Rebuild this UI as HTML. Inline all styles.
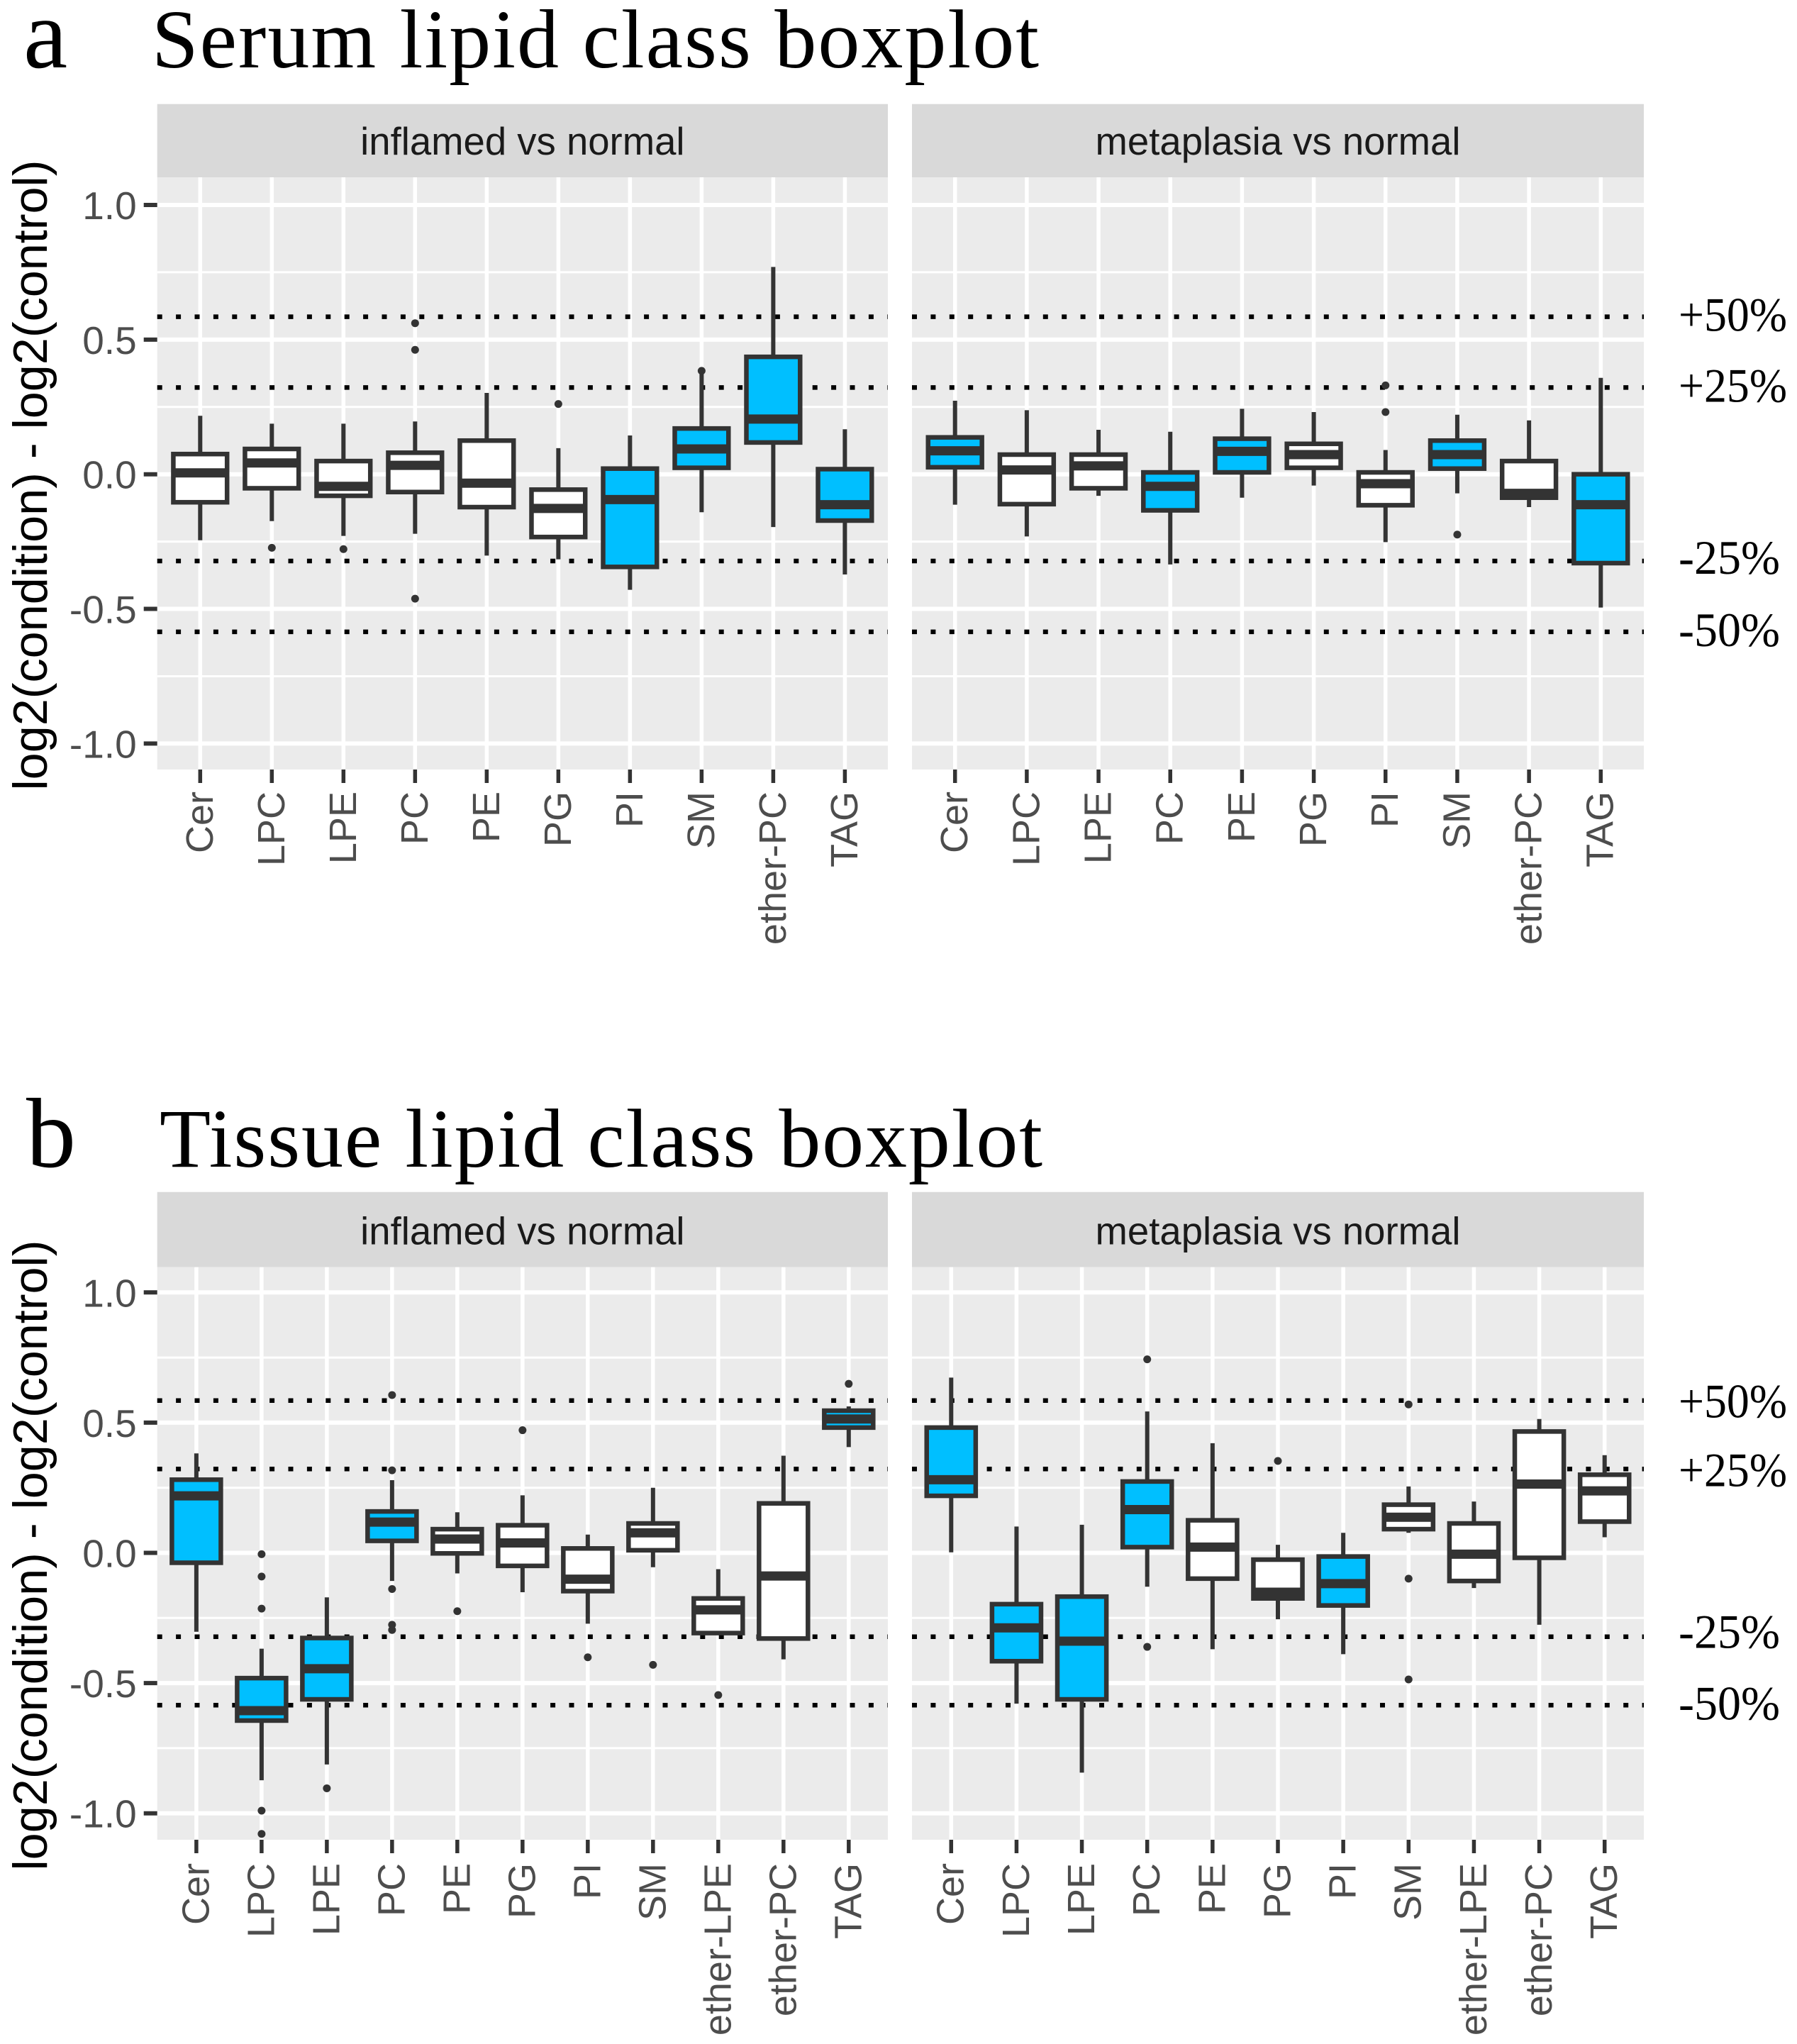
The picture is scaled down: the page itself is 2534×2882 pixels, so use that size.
<!DOCTYPE html>
<html lang="en">
<head>
<meta charset="utf-8">
<title>Serum and tissue lipid class boxplots</title>
<style>
html,body{margin:0;padding:0;background:#fff;}
svg{display:block;}
text{font-family:"Liberation Sans",sans-serif;}
.serif{font-family:"Liberation Serif",serif;}
</style>
</head>
<body>
<svg id="figure" xmlns="http://www.w3.org/2000/svg" width="2534" height="2882" viewBox="0 0 2534 2882"></svg>
<script>
// ---------- Shared data ----------
const yTickValues = [1.0, 0.5, 0.0, -0.5, -1.0];
const yTickLabels = ['1.0', '0.5', '0.0', '-0.5', '-1.0'];
const yMinorValues = [0.75, 0.25, -0.25, -0.75];
const referenceValues = [0.585, 0.322, -0.322, -0.585];
const referenceLabels = ['+50%', '+25%', '-25%', '-50%'];

// ---------- Serum: inflamed vs normal ----------
const serumCategories = ['Cer', 'LPC', 'LPE', 'PC', 'PE', 'PG', 'PI', 'SM', 'ether-PC', 'TAG'];
const serumInflamedWhiskerHigh = [0.217, 0.188, 0.188, 0.196, 0.302, 0.097, 0.144, 0.372, 0.77, 0.167];
const serumInflamedQ3 = [0.075, 0.094, 0.049, 0.08, 0.125, -0.057, 0.021, 0.17, 0.436, 0.019];
const serumInflamedMedian = [0.005, 0.042, -0.045, 0.033, -0.033, -0.127, -0.094, 0.094, 0.205, -0.113];
const serumInflamedQ1 = [-0.104, -0.052, -0.08, -0.066, -0.122, -0.233, -0.344, 0.024, 0.118, -0.172];
const serumInflamedWhiskerLow = [-0.245, -0.174, -0.229, -0.221, -0.302, -0.316, -0.429, -0.141, -0.196, -0.372];
const serumInflamedOutliers = [[], [-0.273], [-0.278], [0.561, 0.462, -0.462], [], [0.261], [], [0.384], [], []];
const serumInflamedHighlighted = ['PI', 'SM', 'ether-PC', 'TAG'];

// ---------- Serum: metaplasia vs normal ----------
const serumMetaplasiaWhiskerHigh = [0.273, 0.238, 0.165, 0.158, 0.243, 0.231, 0.09, 0.221, 0.2, 0.358];
const serumMetaplasiaQ3 = [0.137, 0.073, 0.073, 0.007, 0.132, 0.113, 0.007, 0.125, 0.049, 0.0];
const serumMetaplasiaMedian = [0.087, 0.016, 0.031, -0.045, 0.085, 0.073, -0.035, 0.073, -0.071, -0.113];
const serumMetaplasiaQ1 = [0.026, -0.111, -0.052, -0.134, 0.007, 0.024, -0.115, 0.021, -0.087, -0.33];
const serumMetaplasiaWhiskerLow = [-0.113, -0.231, -0.08, -0.335, -0.087, -0.042, -0.252, -0.071, -0.122, -0.495];
const serumMetaplasiaOutliers = [[], [], [], [], [], [], [0.33, 0.231], [-0.224], [], []];
const serumMetaplasiaHighlighted = ['Cer', 'PC', 'PE', 'SM', 'TAG'];

// ---------- Tissue: inflamed vs normal ----------
const tissueCategories = ['Cer', 'LPC', 'LPE', 'PC', 'PE', 'PG', 'PI', 'SM', 'ether-LPE', 'ether-PC', 'TAG'];
const tissueInflamedWhiskerHigh = [0.382, -0.368, -0.171, 0.279, 0.156, 0.221, 0.07, 0.25, -0.0625, 0.373, 0.5625];
const tissueInflamedQ3 = [0.281, -0.481, -0.327, 0.159, 0.091, 0.106, 0.017, 0.113, -0.175, 0.19, 0.546];
const tissueInflamedMedian = [0.219, -0.606, -0.445, 0.118, 0.053, 0.038, -0.101, 0.077, -0.219, -0.089, 0.514];
const tissueInflamedQ1 = [-0.038, -0.644, -0.5625, 0.046, -0.002, -0.05, -0.147, 0.01, -0.308, -0.329, 0.481];
const tissueInflamedWhiskerLow = [-0.303, -0.873, -0.8125, -0.108, -0.079, -0.151, -0.272, -0.055, -0.31, -0.409, 0.406];
const tissueInflamedOutliers = [[], [-0.005, -0.091, -0.214, -0.99, -1.079], [-0.904], [0.606, 0.317, -0.139, -0.276, -0.296], [-0.224], [0.471], [-0.401], [-0.43], [-0.546], [], [0.649]];
const tissueInflamedHighlighted = ['Cer', 'LPC', 'LPE', 'PC', 'TAG'];

// ---------- Tissue: metaplasia vs normal ----------
const tissueMetaplasiaWhiskerHigh = [0.673, 0.101, 0.108, 0.543, 0.421, 0.031, 0.077, 0.255, 0.197, 0.514, 0.375];
const tissueMetaplasiaQ3 = [0.481, -0.197, -0.168, 0.274, 0.125, -0.026, -0.014, 0.185, 0.113, 0.466, 0.3];
const tissueMetaplasiaMedian = [0.281, -0.288, -0.339, 0.166, 0.022, -0.151, -0.118, 0.137, -0.005, 0.264, 0.238];
const tissueMetaplasiaQ1 = [0.219, -0.416, -0.5625, 0.022, -0.099, -0.175, -0.202, 0.091, -0.108, -0.019, 0.12];
const tissueMetaplasiaWhiskerLow = [0.002, -0.579, -0.844, -0.13, -0.37, -0.255, -0.389, 0.077, -0.135, -0.276, 0.06];
const tissueMetaplasiaOutliers = [[], [], [], [0.743, -0.361], [], [0.353], [], [0.57, -0.099, -0.486], [], [], []];
const tissueMetaplasiaHighlighted = ['Cer', 'LPC', 'LPE', 'PC', 'PI'];

// ---------- Drawing ----------
const NS = 'http://www.w3.org/2000/svg';
const svg = document.getElementById('figure');

function make(tag, attrs, parent, text) {
  const node = document.createElementNS(NS, tag);
  for (const key in attrs) node.setAttribute(key, attrs[key]);
  if (text !== undefined) node.textContent = text;
  (parent || svg).appendChild(node);
  return node;
}

function slug(s) {
  return s.toLowerCase().replace(/[^a-z0-9]+/g, '-');
}

function drawPanel(cfg, d) {
  const step = (cfg.right - cfg.left) / (d.categories.length + 0.2);
  const xScale = i => cfg.left + (0.6 + i) * step;
  const yScale = v => cfg.yZero - cfg.yUnit * v;
  const boxWidth = 0.75 * step;

  const group = make('g', {}, svg);
  
  

  const strip = make('rect', { x: cfg.left, y: cfg.stripTop, width: cfg.right - cfg.left, height: cfg.stripBottom - cfg.stripTop, fill: '#D9D9D9' }, group);
  
  

  const stripLabel = make('text', { x: (cfg.left + cfg.right) / 2, y: cfg.stripBottom - 32, 'font-size': 54.5, fill: '#1A1A1A', 'text-anchor': 'middle' }, group, d.title);
  
  

  const bg = make('rect', { x: cfg.left, y: cfg.stripBottom, width: cfg.right - cfg.left, height: cfg.bottom - cfg.stripBottom, fill: '#EBEBEB' }, group);
  
  

  yMinorValues.forEach(v => {
    const line = make('line', { x1: cfg.left, x2: cfg.right, y1: yScale(v), y2: yScale(v), stroke: '#fff', 'stroke-width': 3 }, group);
    
    
  });
  yTickValues.forEach(v => {
    const line = make('line', { x1: cfg.left, x2: cfg.right, y1: yScale(v), y2: yScale(v), stroke: '#fff', 'stroke-width': 6 }, group);
    
    
  });
  d.categories.forEach((c, i) => {
    const line = make('line', { x1: xScale(i), x2: xScale(i), y1: cfg.stripBottom, y2: cfg.bottom, stroke: '#fff', 'stroke-width': 5.5 }, group);
    
    
  });

  referenceValues.forEach((v, i) => {
    const line = make('line', { x1: cfg.left, x2: cfg.right, y1: yScale(v), y2: yScale(v), stroke: '#000', 'stroke-width': 6.5, 'stroke-dasharray': '7 19.4' }, group);
    
    
  });

  d.categories.forEach((c, i) => {
    const cx = xScale(i);
    const highlighted = d.highlighted.indexOf(c) >= 0;

    const whisker = make('line', { x1: cx, x2: cx, y1: yScale(d.whiskerHigh[i]), y2: yScale(d.whiskerLow[i]), stroke: '#333', 'stroke-width': 6 }, group);
    
    

    const box = make('rect', { x: cx - boxWidth / 2, y: yScale(d.q3[i]), width: boxWidth, height: yScale(d.q1[i]) - yScale(d.q3[i]), fill: highlighted ? '#00BFFF' : '#FFFFFF', stroke: '#333', 'stroke-width': 6.5 }, group);
    
    

    const median = make('line', { x1: cx - boxWidth / 2, x2: cx + boxWidth / 2, y1: yScale(d.median[i]), y2: yScale(d.median[i]), stroke: '#333', 'stroke-width': 13 }, group);
    
    

    d.outliers[i].forEach(v => {
      const dot = make('circle', { cx: cx, cy: yScale(v), r: 5.5, fill: '#333' }, group);
      
      
    });

    const tick = make('line', { x1: cx, x2: cx, y1: cfg.bottom, y2: cfg.bottom + 19, stroke: '#333', 'stroke-width': 5.5 }, group);
    
    

    const label = make('text', { x: 0, y: 0, 'font-size': 54, fill: '#4D4D4D', 'text-anchor': 'end', dy: '0.36em', transform: 'translate(' + (cx - 2) + ',' + cfg.labelTop + ') rotate(-90)' }, group, c);
    
    
  });

  if (cfg.showYAxis) {
    yTickValues.forEach((v, i) => {
      const tick = make('line', { x1: cfg.left - 19, x2: cfg.left, y1: yScale(v), y2: yScale(v), stroke: '#333', 'stroke-width': 6 }, group);
      
      

      const label = make('text', { x: cfg.left - 29, y: yScale(v) + 20, 'font-size': 55, fill: '#4D4D4D', 'text-anchor': 'end' }, group, yTickLabels[i]);
      
      
    });
    const title = make('text', { x: 0, y: 0, 'font-size': 68, fill: '#000', 'text-anchor': 'middle', textLength: 889, lengthAdjust: 'spacingAndGlyphs', transform: 'translate(66,' + cfg.titleCenter + ') rotate(-90)' }, group, 'log2(condition) - log2(control)');
    
    
  }

  if (cfg.showReferenceLabels) {
    referenceLabels.forEach((t, i) => {
      const label = make('text', { x: 2367, y: yScale(referenceValues[i]) + cfg.labelOffsets[i], 'font-size': 68, fill: '#000', class: 'serif', textLength: t.charAt(0) === '+' ? 153 : 143, lengthAdjust: 'spacingAndGlyphs' }, group, t);
      
      
    });
  }
}

const serumFrame = { stripTop: 146.7, stripBottom: 250, bottom: 1085, yZero: 668.7, yUnit: 379.7, labelTop: 1116, titleCenter: 670, labelOffsets: [20, 20, 18, 20] };
const tissueFrame = { stripTop: 1680.7, stripBottom: 1786.7, bottom: 2594, yZero: 2189.5, yUnit: 367.2, labelTop: 2627, titleCenter: 2193, labelOffsets: [24, 24, 16, 20] };
const leftColumn = { left: 221.7, right: 1252, showYAxis: true, showReferenceLabels: false };
const rightColumn = { left: 1286, right: 2318, showYAxis: false, showReferenceLabels: true };

drawPanel(Object.assign({ name: 'serum-inflamed' }, serumFrame, leftColumn), {
  title: 'inflamed vs normal', categories: serumCategories, whiskerHigh: serumInflamedWhiskerHigh, q3: serumInflamedQ3,
  median: serumInflamedMedian, q1: serumInflamedQ1, whiskerLow: serumInflamedWhiskerLow, outliers: serumInflamedOutliers, highlighted: serumInflamedHighlighted
});
drawPanel(Object.assign({ name: 'serum-metaplasia' }, serumFrame, rightColumn), {
  title: 'metaplasia vs normal', categories: serumCategories, whiskerHigh: serumMetaplasiaWhiskerHigh, q3: serumMetaplasiaQ3,
  median: serumMetaplasiaMedian, q1: serumMetaplasiaQ1, whiskerLow: serumMetaplasiaWhiskerLow, outliers: serumMetaplasiaOutliers, highlighted: serumMetaplasiaHighlighted
});
drawPanel(Object.assign({ name: 'tissue-inflamed' }, tissueFrame, leftColumn), {
  title: 'inflamed vs normal', categories: tissueCategories, whiskerHigh: tissueInflamedWhiskerHigh, q3: tissueInflamedQ3,
  median: tissueInflamedMedian, q1: tissueInflamedQ1, whiskerLow: tissueInflamedWhiskerLow, outliers: tissueInflamedOutliers, highlighted: tissueInflamedHighlighted
});
drawPanel(Object.assign({ name: 'tissue-metaplasia' }, tissueFrame, rightColumn), {
  title: 'metaplasia vs normal', categories: tissueCategories, whiskerHigh: tissueMetaplasiaWhiskerHigh, q3: tissueMetaplasiaQ3,
  median: tissueMetaplasiaMedian, q1: tissueMetaplasiaQ1, whiskerLow: tissueMetaplasiaWhiskerLow, outliers: tissueMetaplasiaOutliers, highlighted: tissueMetaplasiaHighlighted
});

const letterA = make('text', { x: 33, y: 95, 'font-size': 140, fill: '#000', class: 'serif' }, svg, 'a');



const titleA = make('text', { x: 214, y: 95, 'font-size': 118, fill: '#000', class: 'serif', textLength: 1251, lengthAdjust: 'spacing' }, svg, 'Serum lipid class boxplot');



const letterB = make('text', { x: 37, y: 1645, 'font-size': 140, fill: '#000', class: 'serif' }, svg, 'b');



const titleB = make('text', { x: 225, y: 1645, 'font-size': 118, fill: '#000', class: 'serif', textLength: 1245, lengthAdjust: 'spacing' }, svg, 'Tissue lipid class boxplot');


</script>
</body>
</html>
